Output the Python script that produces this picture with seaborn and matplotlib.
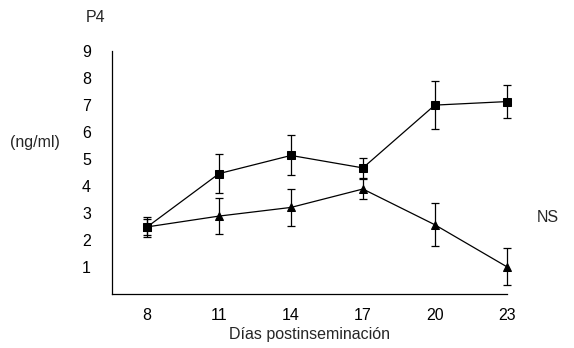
import matplotlib
matplotlib.use("Agg")
import matplotlib.pyplot as plt
import seaborn as sns
import pandas as pd

days = [8, 11, 14, 17, 20, 23]
sq_vals = [2.49, 4.46, 5.13, 4.67, 6.99, 7.12]
sq_err = [0.36, 0.72, 0.74, 0.37, 0.90, 0.62]
tri_vals = [2.49, 2.89, 3.21, 3.89, 2.57, 1.02]
tri_err = [0.30, 0.67, 0.69, 0.38, 0.80, 0.68]
y_ticks = [1, 2, 3, 4, 5, 6, 7, 8, 9]

sns.set_style("white")
plt.rcParams['font.family'] = ['Liberation Sans', 'DejaVu Sans']

df = pd.DataFrame({
    "day": days * 2,
    "val": sq_vals + tri_vals,
    "grp": ["sq"] * len(days) + ["tri"] * len(days),
})

fig = plt.figure(figsize=(5.74, 3.48), dpi=100)
ax = fig.add_axes([0.1946, 0.1543, 0.6882, 0.700])

for vals, errs in [(sq_vals, sq_err), (tri_vals, tri_err)]:
    cont = ax.errorbar(days, vals, yerr=errs, fmt='none', ecolor='black',
                       elinewidth=0.9, capsize=2.6, capthick=0.9, zorder=2)
    for child in cont.get_children():
        child.set_clip_on(False)

sns.lineplot(data=df, x="day", y="val", hue="grp", style="grp",
             markers={"sq": "s", "tri": "^"}, dashes=False,
             palette={"sq": "black", "tri": "black"},
             markersize=5.5, markeredgecolor='black', linewidth=0.9,
             legend=False, ax=ax, zorder=3)
for line in ax.get_lines():
    line.set_clip_on(False)

ax.set_xlim(6.52, 23)
ax.set_ylim(0, 9)
ax.set_xticks(days)
ax.set_xticklabels([str(d) for d in days])
ax.set_yticks(y_ticks)
ax.set_yticklabels([str(t) for t in y_ticks])
ax.tick_params(axis='both', direction='out', length=3, width=0.8,
               colors='black', labelsize=11.5)
ax.tick_params(axis='y', pad=12)
ax.tick_params(axis='x', pad=7)
for s in ['top', 'right']:
    ax.spines[s].set_visible(False)
for s in ['left', 'bottom']:
    ax.spines[s].set_color('black')
    ax.spines[s].set_linewidth(0.9)
ax.set_xlabel("Días postinseminación", fontsize=11.5, labelpad=3)
ax.set_ylabel("")

fig.text(96 / 574, 1 - 18 / 348, "P4", fontsize=11.5, ha='center', va='center')
fig.text(35 / 574, 1 - 143 / 348, "(ng/ml)", fontsize=11.5, ha='center', va='center')
fig.text(548 / 574, 1 - 218 / 348, "NS", fontsize=11.5, ha='center', va='center')

fig.savefig("out.png", dpi=100)
